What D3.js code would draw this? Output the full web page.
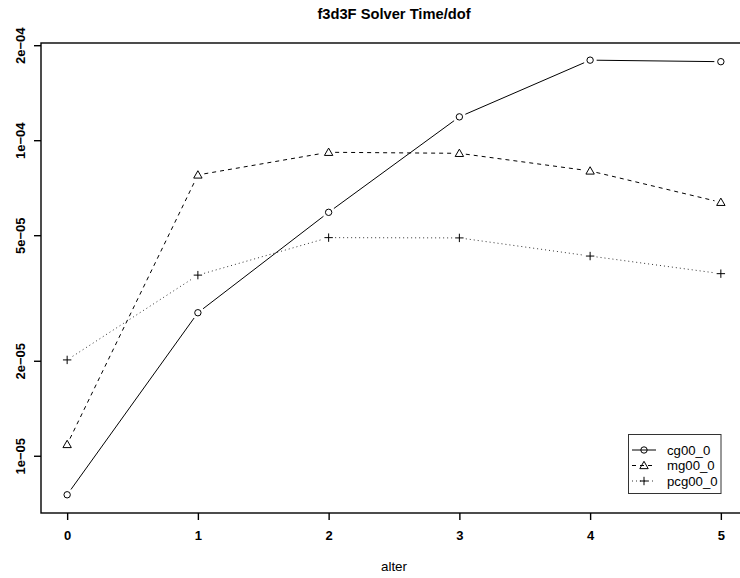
<!DOCTYPE html>
<meta charset="utf-8">
<html>
<style>
	body { margin: 0; background: #fff; }
	svg text { font-family: "Liberation Sans", Arial, sans-serif; }
</style>
<body>
<div id="plot_line"></div>
<script src="https://d3js.org/d3.v7.min.js"></script>
<script>
	// -----Data-----
	const alter = [0, 1, 2, 3, 4, 5]
	const series_names = ["cg00_0", "mg00_0", "pcg00_0"]
	const cg00_0 = [7.55e-6, 2.85e-5, 5.93e-5, 1.19e-4, 1.80e-4, 1.78e-4]
	const mg00_0 = [1.09e-5, 7.79e-5, 9.19e-5, 9.12e-5, 8.02e-5, 6.38e-5]
	const pcg00_0 = [2.02e-5, 3.75e-5, 4.93e-5, 4.92e-5, 4.31e-5, 3.79e-5]
	const y_ticks = [1e-5, 2e-5, 5e-5, 1e-4, 2e-4]
	const y_tick_labels = ["1e\u221205", "2e\u221205", "5e\u221205", "1e\u221204", "2e\u221204"]

	// -----Layout-----
	const W = 740, H = 578
	const plot = {left: 41, right: 747, top: 43, bottom: 513}

	var svg = d3.select("#plot_line")
		.append("svg")
		.attr("width", W)
		.attr("height", H)

	var x = d3.scaleLinear().domain([-0.2, 5.2]).range([plot.left, plot.right])
	var y = d3.scaleLog().domain([6.61e-6, 2.04e-4]).range([plot.bottom, plot.top])

	// box
	svg.append("rect")
		.attr("x", plot.left).attr("y", plot.top)
		.attr("width", plot.right - plot.left).attr("height", plot.bottom - plot.top)
		.attr("fill", "none").attr("stroke", "#000").attr("stroke-width", 1.4)

	// X axis
	var axis_x = svg.append("g")
		.attr("transform", "translate(0," + plot.bottom + ")")
		.call(d3.axisBottom(x).tickValues(alter).tickFormat(d3.format("d"))
			.tickSize(7).tickSizeOuter(0).tickPadding(11))
	axis_x.select(".domain").remove()
	axis_x.selectAll("line").attr("stroke-width", 1.4)
	axis_x.selectAll("text")
		.attr("font-size", 13).attr("font-weight", "bold")
		.attr("font-family", "Liberation Sans, Arial, sans-serif")

	// Y axis (R style: labels rotated)
	var axis_y = svg.append("g")
		.attr("transform", "translate(" + plot.left + ",0)")
	axis_y.selectAll("line")
		.data(y_ticks)
		.join("line")
		.attr("x1", -7).attr("x2", 0)
		.attr("y1", d => y(d)).attr("y2", d => y(d))
		.attr("stroke", "#000").attr("stroke-width", 1.4)
	axis_y.selectAll("text")
		.data(y_ticks)
		.join("text")
		.attr("transform", d => "translate(-16," + y(d) + ") rotate(-90)")
		.attr("text-anchor", "middle")
		.attr("font-size", 13).attr("font-weight", "bold")
		.text((d, i) => y_tick_labels[i])

	// Title and axis label
	svg.append("text")
		.attr("x", 394).attr("y", 18.5)
		.attr("text-anchor", "middle")
		.attr("font-size", 14.7).attr("font-weight", "bold")
		.text("f3d3F Solver Time/dof")

	svg.append("text")
		.attr("x", 394).attr("y", 571)
		.attr("text-anchor", "middle")
		.attr("font-size", 13.4)
		.text("alter")

	// -----Series-----
	const series = [
		{name: series_names[0], values: cg00_0, dash: null, colour: "#000", pch: "circle"},
		{name: series_names[1], values: mg00_0, dash: "4,4", colour: "#000", pch: "triangle"},
		{name: series_names[2], values: pcg00_0, dash: "1,3", colour: "#333", pch: "plus"}
	]

	// draw a point symbol
	function symbol(g, pch, cx, cy) {
		if (pch == "circle") {
			g.append("circle").attr("cx", cx).attr("cy", cy).attr("r", 3.2)
				.attr("fill", "none").attr("stroke", "#000").attr("stroke-width", 1)
		} else if (pch == "triangle") {
			var s = 4.2
			g.append("path")
				.attr("d", "M" + cx + "," + (cy - s) + "L" + (cx + s) + "," + (cy + s * 0.75) + "L" + (cx - s) + "," + (cy + s * 0.75) + "Z")
				.attr("fill", "none").attr("stroke", "#000").attr("stroke-width", 1)
		} else {
			var s = 4.2
			g.append("path")
				.attr("d", "M" + (cx - s) + "," + cy + "H" + (cx + s) + "M" + cx + "," + (cy - s) + "V" + (cy + s))
				.attr("fill", "none").attr("stroke", "#000").attr("stroke-width", 1)
		}
	}

	const gap = 6.5 // type="b" gap around points
	series.forEach(s => {
		var g = svg.append("g")
		var pts = alter.map((a, i) => [x(a), y(s.values[i])])
		for (var i = 0; i < pts.length - 1; i++) {
			var p0 = pts[i], p1 = pts[i + 1]
			var dx = p1[0] - p0[0], dy = p1[1] - p0[1]
			var len = Math.sqrt(dx * dx + dy * dy)
			var ux = dx / len, uy = dy / len
			g.append("line")
				.attr("x1", p0[0] + ux * gap).attr("y1", p0[1] + uy * gap)
				.attr("x2", p1[0] - ux * gap).attr("y2", p1[1] - uy * gap)
				.attr("stroke", s.colour).attr("stroke-width", 1)
				.attr("stroke-dasharray", s.dash)
		}
		pts.forEach(p => symbol(g, s.pch, p[0], p[1]))
	})

	// -----Legend-----
	var legend = svg.append("g")
	legend.append("rect")
		.attr("x", 628.5).attr("y", 434.5).attr("width", 92.5).attr("height", 59)
		.attr("fill", "#fff").attr("stroke", "#333").attr("stroke-width", 1)
	series.forEach((s, i) => {
		var ly = 450 + i * 15.5
		legend.append("line")
			.attr("x1", 632).attr("x2", 656).attr("y1", ly).attr("y2", ly)
			.attr("stroke", s.colour).attr("stroke-width", 1)
			.attr("stroke-dasharray", s.dash)
		symbol(legend, s.pch, 644, ly)
		legend.append("text")
			.attr("x", 667).attr("y", ly + 4.5)
			.attr("font-size", 13.2)
			.text(s.name)
	})
</script>
</body>
</html>
